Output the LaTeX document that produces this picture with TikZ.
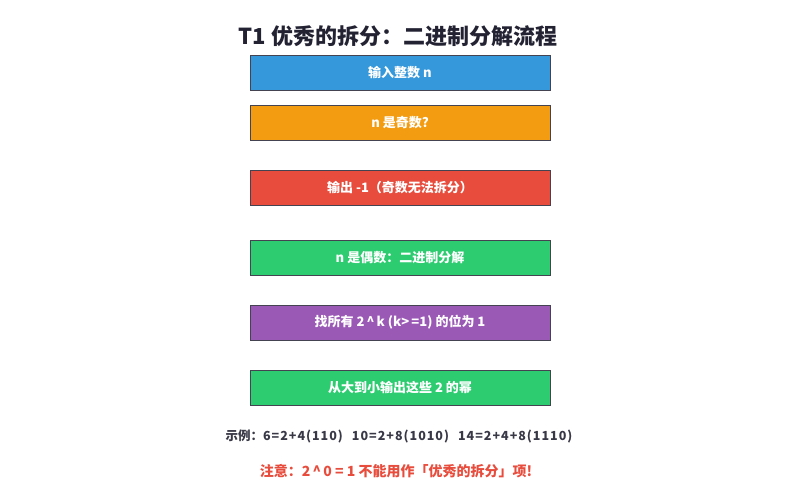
\documentclass[tikz,border=0pt]{standalone}
\usepackage{fontspec}
\setmainfont{Noto Sans CJK SC}
\usepackage{tikz}

\definecolor{stepblue}{HTML}{3498DB}
\definecolor{steporange}{HTML}{F39C12}
\definecolor{stepred}{HTML}{E74C3C}
\definecolor{stepgreen}{HTML}{2ECC71}
\definecolor{steppurple}{HTML}{9B59B6}
\definecolor{darktext}{HTML}{222233}

\newcommand{\widenum}[1]{{\addfontfeatures{LetterSpace=8}#1}}

\tikzset{
    stepbox/.style = {draw=darktext!85, line width=0.8bp, minimum width=300bp, minimum height=35bp,
                      inner sep=0pt, text=white, font=\fontsize{13bp}{15bp}\selectfont\bfseries},
}

\begin{document}
\begin{tikzpicture}[x=1bp, y=-1bp]

    \useasboundingbox (0,0) rectangle (800,500);

    \node [font=\fontsize{22bp}{24bp}\selectfont\bfseries, text=darktext] (title) at (398,36) {T1 优秀的拆分：二进制分解流程};

    \node [stepbox, fill=stepblue]   (input) at (400,73)  {输入整数 n};
    \node [stepbox, fill=steporange] (odd)   at (400,122.5) {n 是奇数?};
    \node [stepbox, fill=stepred]    (fail)  at (400,187.5) {输出 -1（奇数无法拆分）};
    \node [stepbox, fill=stepgreen]  (even)  at (400,257.5) {n 是偶数：二进制分解};
    \node [stepbox, fill=steppurple] (bits)  at (400,322.5) {找所有 2\,\^{}\,k (k>\,=1) 的位为 1};
    \node [stepbox, fill=stepgreen]  (out)   at (400,387.5) {从大到小输出这些 2 的幂};

    \node [font=\fontsize{12.5bp}{14bp}\selectfont\bfseries, text=darktext!90] (example) at (399,436)
        {示例：\widenum{6=2+4(110)}\hspace{9bp}\widenum{10=2+8(1010)}\hspace{9bp}\widenum{14=2+4+8(1110)}};
    \node [font=\fontsize{14bp}{16bp}\selectfont\bfseries, text=stepred] (note) at (396,471)
        {注意：2\,\^{}\,0 = 1 不能用作「优秀的拆分」项!};

\end{tikzpicture}
\end{document}
